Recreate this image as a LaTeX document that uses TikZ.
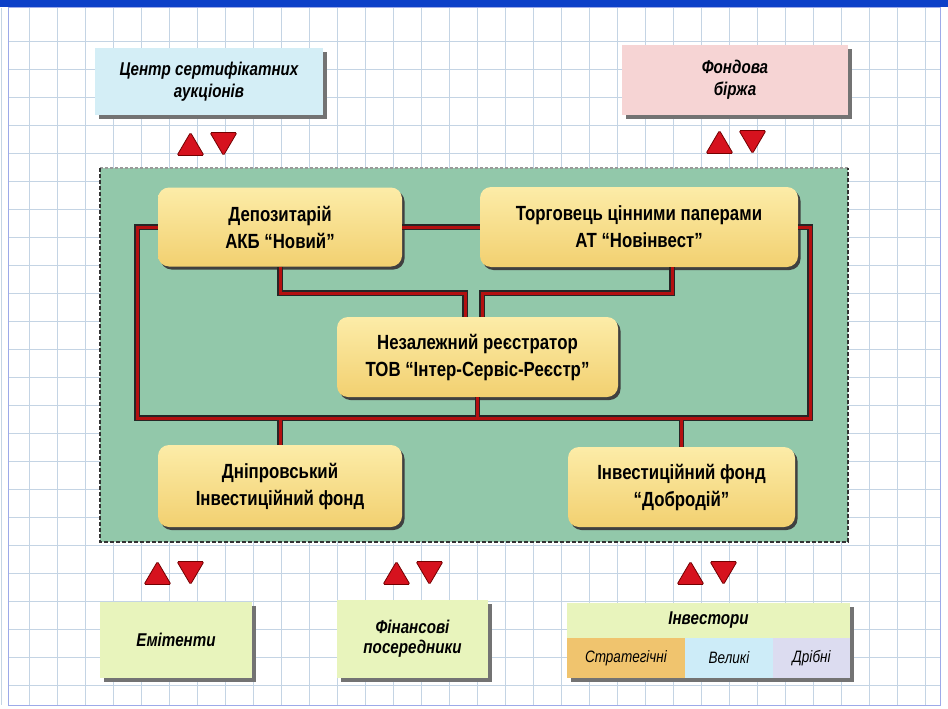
\documentclass[tikz,border=0pt]{standalone}
\usepackage{fontspec}
\setmainfont[FakeStretch=0.82]{Liberation Sans}
\usetikzlibrary{shadows,calc}
\definecolor{gridc}{RGB}{196,212,228}
\definecolor{topbar}{RGB}{12,64,200}
\definecolor{panel}{RGB}{146,200,170}
\definecolor{ylwL}{RGB}{252,236,168}
\definecolor{ylwD}{RGB}{242,208,112}
\definecolor{cyanbox}{RGB}{212,238,246}
\definecolor{pinkbox}{RGB}{246,212,212}
\definecolor{limebox}{RGB}{232,244,188}
\definecolor{stratc}{RGB}{240,196,110}
\definecolor{velc}{RGB}{205,236,248}
\definecolor{drc}{RGB}{220,220,240}
\definecolor{redl}{RGB}{180,16,16}
\definecolor{trired}{RGB}{214,18,30}
\newcommand\updown[2]{%
  \draw[tri] ({#1-30},{#2+11.5}) -- ({#1-16.5},{#2-11.5}) -- ({#1-3},{#2+11.5}) -- cycle;
  \draw[tri] ({#1+3},{#2-11.5}) -- ({#1+30},{#2-11.5}) -- ({#1+16.5},{#2+11.5}) -- cycle;}
\newcommand\netpaths{%
  (dep.west) -| (busL) -- (busR) |- (trader.east)
  (dep.east) -- (trader.west)
  (dep.south) |- (j1) -- (j1 |- reg.north)
  ([xshift=33pt]trader.south) |- (j2) -- (j2 |- reg.north)
  (reg.south) -- (reg.south |- busL)
  (busL -| dnip.north) -- (dnip.north)
  (busL -| dobr.north) -- (dobr.north)}
\begin{document}
\begin{tikzpicture}[x=1pt,y=-1pt,
  gridline/.style={draw=gridc,line width=0.7pt},
  flatbox/.style={fill=#1,align=center,inner sep=0pt,
    drop shadow={shadow xshift=4pt,shadow yshift=-4pt,fill=black!55,opacity=1},
    font=\fontsize{18.5}{22}\selectfont\bfseries\itshape},
  ybox/.style={rounded corners=11pt,top color=ylwL,bottom color=ylwD,align=center,inner sep=0pt,
    drop shadow={shadow xshift=2.5pt,shadow yshift=-3pt,fill=black!75,opacity=1},
    font=\fontsize{20.5}{27}\selectfont\bfseries},
  cell/.style={fill=#1,inner sep=0pt,font=\fontsize{16.5}{18}\selectfont\itshape},
  tri/.style={fill=trired,draw=red!45!black,line width=0.8pt,rounded corners=1.5pt},
  outl/.style={draw=black!85,line width=5.5pt},
  redline/.style={draw=redl,line width=3pt}]
\useasboundingbox (0,0) rectangle (948,709);
\fill[white] (0,0) rectangle (948,709);
% grid
\foreach \k in {0,...,33} \draw[gridline] ({28*\k+1},8) -- ({28*\k+1},705);
\foreach \k in {1,...,24} \draw[gridline] (8,{28*\k+13}) -- (940,{28*\k+13});
\draw[draw=gridc!80!blue,line width=1pt] (8,8) rectangle (940,705);
\fill[topbar] (0,0) rectangle (948,7);
% panel
\fill[panel] (100,168) rectangle (848,542);
\draw[black!40,line width=1.5pt,dash pattern=on 3pt off 2pt] (100,168) -- (848,168);
\draw[black!80,line width=1.8pt,dash pattern=on 4pt off 2pt] (100,168) -- (100,542) -- (848,542) -- (848,168);
% top boxes
\node[flatbox=cyanbox,minimum width=228pt,minimum height=67pt] (centr) at (209,81.5) {Центр сертифікатних\\аукціонів};
\node[flatbox=pinkbox,minimum width=226pt,minimum height=70pt] (birzha) at (735,80) {Фондова\\біржа};
% yellow boxes
\node[ybox,minimum width=244pt,minimum height=79pt] (dep) at (280,227) {Депозитарій\\АКБ “Новий”};
\node[ybox,minimum width=318pt,minimum height=80pt] (trader) at (639,227) {Торговець цінними паперами\\АТ “Новінвест”};
\node[ybox,minimum width=281pt,minimum height=80pt] (reg) at (477.5,357) {Незалежний реєстратор\\ТОВ “Інтер-Сервіс-Реєстр”};
\node[ybox,minimum width=244pt,minimum height=82pt] (dnip) at (280,486) {Дніпровський\\Інвестиційний фонд};
\node[ybox,minimum width=227pt,minimum height=80pt] (dobr) at (681.5,487) {Інвестиційний фонд\\“Добродій”};
% connector points
\coordinate (busL) at (137,418);
\coordinate (busR) at (810,418);
\coordinate (j1) at (465,293);
\coordinate (j2) at (482,293);
\draw[outl] \netpaths;
\draw[redline] \netpaths;
% bottom boxes
\node[flatbox=limebox,minimum width=152pt,minimum height=76pt] (emit) at (176,640) {Емітенти};
\node[flatbox=limebox,minimum width=151pt,minimum height=78pt,font=\fontsize{18.5}{20}\selectfont\bfseries\itshape] (fin) at (412.5,639) {Фінансові\\посередники};
\node[flatbox=limebox,minimum width=283pt,minimum height=75pt] (inv) at (708.5,640.5) {};
\node[flatbox=limebox,minimum width=283pt,minimum height=35pt,drop shadow={opacity=0}] (invt) at (708.5,620.5) {Інвестори};
\node[cell=stratc,minimum width=118pt,minimum height=40pt] (strat) at (626,658) {Стратегічні};
\node[cell=velc,minimum width=88pt,minimum height=40pt] (vel) at (729,658) {Великі};
\node[cell=drc,minimum width=77pt,minimum height=40pt] (dr) at (811.5,658) {Дрібні};
% exchange markers
\updown{207}{144}
\updown{736}{142}
\updown{174}{573}
\updown{413}{573}
\updown{707}{573}
\end{tikzpicture}
\end{document}
